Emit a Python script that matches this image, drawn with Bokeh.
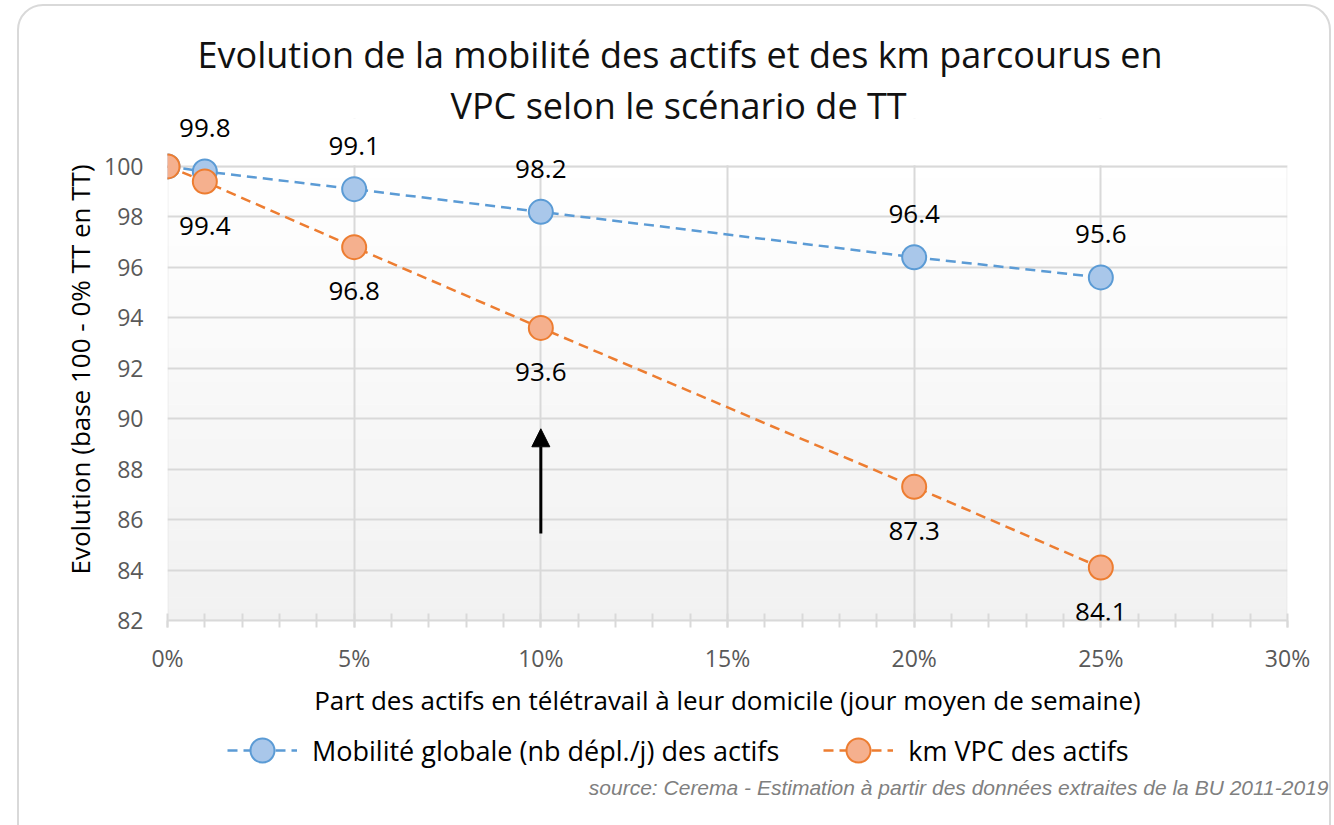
from bokeh.plotting import figure
from bokeh.layouts import column
from bokeh.models import (ColumnDataSource, LabelSet, Label, Legend, LegendItem, Arrow, Title,
                          NormalHead, FixedTicker, NumeralTickFormatter,
                          BoxAnnotation, Range1d, InlineStyleSheet)
from bokeh.core.properties import value
from bokeh.embed import file_html
from bokeh.resources import INLINE

# ---------------- data ----------------
title_lines = ["Evolution de la mobilité des actifs et des km parcourus en",
               "VPC selon le scénario de TT"]
x_share = [0.0, 0.01, 0.05, 0.10, 0.20, 0.25]
mobilite = [100.0, 99.8, 99.1, 98.2, 96.4, 95.6]
km_vpc = [100.0, 99.4, 96.8, 93.6, 87.3, 84.1]
series_names = ["Mobilité globale (nb dépl./j) des actifs", "km VPC des actifs"]
x_label = "Part des actifs en télétravail à leur domicile (jour moyen de semaine)"
y_label = "Evolution (base 100 - 0% TT en TT)"
source_note = "source: Cerema - Estimation à partir des données extraites de la BU 2011-2019"
x_ticks = [0.0, 0.05, 0.10, 0.15, 0.20, 0.25, 0.30]
x_minor_ticks = [i / 100 for i in range(31)]
y_ticks = [82, 84, 86, 88, 90, 92, 94, 96, 98, 100]
arrow_x = 0.10
arrow_from = 85.45
arrow_to = 89.6

# ---------------- style ----------------
BLUE = "#5b9bd5"
BLUE_FILL = "#a9c7ea"
ORANGE = "#ed7d31"
ORANGE_FILL = "#f5b08e"
GRID = "#d9d9d9"
FONT = "Open Sans"
DASH = "10 6"

x_min, x_max = x_ticks[0], x_ticks[-1]
y_min, y_top = y_ticks[0], y_ticks[-1]
y_view_max = 101.9          # head-room above 100 for the data labels

W = 1334
H_MAIN, H_FOOT = 720, 105

p = figure(width=W, height=H_MAIN, x_range=Range1d(x_min, x_max),
           y_range=Range1d(y_min, y_view_max),
           output_backend="svg", toolbar_location=None,
           min_border_left=167, min_border_right=47, min_border_top=118, min_border_bottom=100)
p.frame_align = False
p.background_fill_color = "white"
p.border_fill_color = "white"
p.outline_line_color = None

# gradient background of the plot area
N = 40
for i in range(N):
    b = y_min + (y_top - y_min) * i / N
    t = min(y_min + (y_top - y_min) * (i + 1) / N + 0.02, y_top)
    frac = (i + 0.5) / N
    g = int(round(241 + (255 - 241) * frac))
    p.add_layout(BoxAnnotation(bottom=b, top=t, fill_color=f"#{g:02x}{g:02x}{g:02x}",
                               fill_alpha=1, line_alpha=0, level="image"))

# axes / grid
p.xaxis.ticker = FixedTicker(ticks=x_ticks, minor_ticks=x_minor_ticks)
p.xaxis.formatter = NumeralTickFormatter(format="0%")
p.yaxis.ticker = FixedTicker(ticks=y_ticks)
p.xgrid.ticker = FixedTicker(ticks=x_ticks)
p.ygrid.ticker = FixedTicker(ticks=y_ticks)
for g in (p.xgrid, p.ygrid):
    g.grid_line_color = GRID
    g.grid_line_width = 2
    g.minor_grid_line_color = None

# hide grid above 100 and draw the plot-area border
p.add_layout(BoxAnnotation(bottom=y_top + 0.045, fill_color="white", fill_alpha=1,
                           line_alpha=0, level="underlay"))
p.add_layout(BoxAnnotation(left=x_min, right=x_max, bottom=y_min, top=y_top, fill_alpha=0,
                           line_color=GRID, line_width=2.5, level="underlay"))

for ax in (p.xaxis, p.yaxis):
    ax.major_label_text_font = FONT
    ax.major_label_text_font_size = "23px"
    ax.major_label_text_color = "#595959"
    ax.axis_label_text_font = FONT
    ax.axis_label_text_font_size = "26px"
    ax.axis_label_text_font_style = "normal"
    ax.axis_label_text_color = "black"

p.xaxis.axis_label = x_label
p.xaxis.axis_line_color = GRID
p.xaxis.axis_line_width = 2
p.xaxis.major_tick_line_color = GRID
p.xaxis.major_tick_line_width = 2
p.xaxis.major_tick_in = 0
p.xaxis.major_tick_out = 7
p.xaxis.minor_tick_line_color = GRID
p.xaxis.minor_tick_line_width = 2
p.xaxis.minor_tick_in = 7
p.xaxis.minor_tick_out = 7
p.xaxis.major_label_standoff = 14
p.xaxis.axis_label_standoff = 5

p.yaxis.axis_label = y_label
p.yaxis.axis_line_color = None
p.yaxis.major_tick_line_color = None
p.yaxis.minor_tick_line_color = None
p.yaxis.major_tick_out = 0
p.yaxis.major_tick_in = 0
p.yaxis.major_label_standoff = 24
p.yaxis.axis_label_standoff = 3

# series
src_b = ColumnDataSource(dict(x=x_share, y=mobilite))
src_o = ColumnDataSource(dict(x=x_share, y=km_vpc))
line_b = dict(line_color=BLUE, line_width=2.5, line_dash=DASH)
mark_b = dict(size=24, fill_color=BLUE_FILL, line_color=BLUE, line_width=2)
line_o = dict(line_color=ORANGE, line_width=2.5, line_dash=DASH)
mark_o = dict(size=24, fill_color=ORANGE_FILL, line_color=ORANGE, line_width=2)
p.line("x", "y", source=src_b, **line_b)
p.scatter("x", "y", source=src_b, **mark_b)
p.line("x", "y", source=src_o, **line_o)
p.scatter("x", "y", source=src_o, **mark_o)

# data labels (the 0% point is not labelled)
lab_b = ColumnDataSource(dict(x=x_share[1:], y=mobilite[1:], t=[f"{v:.1f}" for v in mobilite[1:]]))
lab_o = ColumnDataSource(dict(x=x_share[1:], y=km_vpc[1:], t=[f"{v:.1f}" for v in km_vpc[1:]]))
p.add_layout(LabelSet(x="x", y="y", text="t", source=lab_b, y_offset=43, text_align="center",
                      text_baseline="middle", text_font=value(FONT), text_font_size="26px",
                      text_color="black"))
p.add_layout(LabelSet(x="x", y="y", text="t", source=lab_o, y_offset=-44, text_align="center",
                      text_baseline="middle", text_font=value(FONT), text_font_size="26px",
                      text_color="black"))

# arrow
p.add_layout(Arrow(end=NormalHead(size=18, fill_color="black", line_color="black"),
                   x_start=arrow_x, y_start=arrow_from, x_end=arrow_x, y_end=arrow_to,
                   line_width=3, line_color="black"))

# title (two lines, closest to the plot first)
p.add_layout(Title(text=title_lines[1], align="left", offset=283, vertical_align="bottom",
                   standoff=-23, text_font=FONT, text_font_size="36px",
                   text_font_style="normal", text_color="#111111"), "above")
p.add_layout(Title(text=title_lines[0], align="left", offset=30, vertical_align="bottom",
                   standoff=23, text_font=FONT, text_font_size="36px",
                   text_font_style="normal", text_color="#111111"), "above")

# ---------------- footer: legend + source note ----------------
# same series renderers, drawn in a view range where they stay hidden: only the legend shows
f = figure(width=W, height=H_FOOT, x_range=Range1d(1000, 1001), y_range=Range1d(1000, 1001),
           x_axis_type=None, y_axis_type=None,
           output_backend="svg", toolbar_location=None,
           min_border_left=0, min_border_right=0, min_border_top=0, min_border_bottom=0)
f.frame_align = False
f.grid.visible = False
f.outline_line_color = None
f.background_fill_color = "white"
f.border_fill_color = "white"
fl1 = f.line("x", "y", source=src_b, **line_b)
fm1 = f.scatter("x", "y", source=src_b, **mark_b)
fl2 = f.line("x", "y", source=src_o, **line_o)
fm2 = f.scatter("x", "y", source=src_o, **mark_o)

legend = Legend(items=[LegendItem(label=series_names[0], renderers=[fl1, fm1]),
                       LegendItem(label=series_names[1], renderers=[fl2, fm2])],
                orientation="horizontal", location=(227, 45), glyph_width=70, glyph_height=60,
                label_standoff=15, spacing=44, padding=0, margin=0,
                border_line_color=None, background_fill_alpha=0,
                label_text_font=FONT, label_text_font_size="27px", label_text_color="black")
f.add_layout(legend)

f.add_layout(Label(x=1328, y=38, x_units="screen", y_units="screen", text=source_note,
                   text_align="right", text_baseline="middle", text_font="Liberation Sans",
                   text_font_style="italic", text_font_size="21px", text_color="#7f7f7f"))

css = """
:host { position: relative; overflow: hidden; }
:host::after { content: ""; position: absolute; left: 17px; top: 4px; width: 1314px; height: 880px;
  border: 2px solid #d9d9d9; border-radius: 26px; box-sizing: border-box; pointer-events: none; z-index: 10; }
"""
layout = column(p, f, spacing=0, stylesheets=[InlineStyleSheet(css=css)])

open("out.html", "w").write(file_html(layout, INLINE))
